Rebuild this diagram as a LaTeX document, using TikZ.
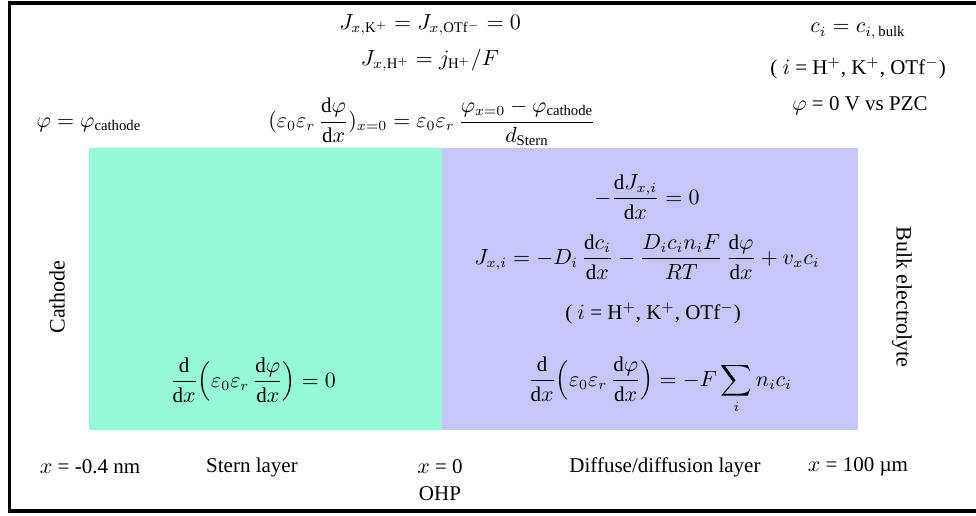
\documentclass[tikz,border=0pt]{standalone}
\usepackage{amsmath}
\usepackage{fontspec}
\setmainfont{Liberation Serif}
\usepackage{tikz}
\usetikzlibrary{positioning}
\definecolor{Aqua}{HTML}{96FAD6}
\definecolor{Lavender}{HTML}{C5C7F8}
\newcommand{\dd}{\mathrm{d}}
\tikzset{
  frame/.style={draw=black,line width=1.6pt},
  eqn/.style={inner sep=1pt,font=\fontsize{10.5}{12}\selectfont},
  lbl/.style={inner sep=1pt,font=\fontsize{10.5}{12}\selectfont},
  sidelbl/.style={inner sep=1pt,font=\fontsize{11}{13}\selectfont}
}
\begin{document}
\begin{tikzpicture}[x=0.5pt,y=-0.5pt]
  \useasboundingbox (0,0) rectangle (976,515);
  \fill[Aqua] (89,148) rectangle (442,430);
  \fill[Lavender] (442,148) rectangle (858,430);
  \draw[frame] (9.5,3) rectangle (978,511);
  % boundary conditions
  \node[eqn] (fluxK) at (430,25) {$J_{x,\mathrm{K^+}} = J_{x,\mathrm{OTf^-}} = 0$};
  \node[eqn] (fluxH) at (430,60) {$J_{x,\mathrm{H^+}} = j_{\mathrm{H^+}}/F$};
  \node[eqn] (gauss) at (432,122) {$\displaystyle(\varepsilon_0\varepsilon_r\,\frac{\dd\varphi}{\dd x})_{x=0} = \varepsilon_0\varepsilon_r\,\frac{\varphi_{x=0}-\varphi_{\mathrm{cathode}}}{d_{\mathrm{Stern}}}$};
  \node[eqn] (phicat) at (89,125) {$\varphi = \varphi_{\mathrm{cathode}}$};
  \node[eqn] (cbulk) at (858,31) {$c_i = c_{i,\,\mathrm{bulk}}$};
  \node[lbl] (ionsA) at (858,68) {( $i$ = H$^+$, K$^+$, OTf$^-$)};
  \node[lbl] (phizero) at (860,106) {$\varphi$ = 0 V vs PZC};
  % governing equations
  \node[eqn] (cons) at (647,197) {$\displaystyle -\frac{\dd J_{x,i}}{\dd x} = 0$};
  \node[eqn] (npflux) at (647,257) {$\displaystyle J_{x,i} = -D_i\,\frac{\dd c_i}{\dd x} - \frac{D_i c_i n_i F}{RT}\,\frac{\dd\varphi}{\dd x} + v_x c_i$};
  \node[lbl] (ionsB) at (653,313) {( $i$ = H$^+$, K$^+$, OTf$^-$)};
  \node[eqn] (poisson) at (660,385) {$\displaystyle \frac{\dd}{\dd x}\Big(\varepsilon_0\varepsilon_r\,\frac{\dd\varphi}{\dd x}\Big) = -F\sum_i n_i c_i$};
  \node[eqn] (laplace) at (253,380) {$\displaystyle \frac{\dd}{\dd x}\Big(\varepsilon_0\varepsilon_r\,\frac{\dd\varphi}{\dd x}\Big) = 0$};
  % axis labels
  \node[lbl] (xcat) at (90,467) {$x$ = -0.4 nm};
  \node[lbl] (stern) at (252,467) {Stern layer};
  \node[lbl] (xohp) at (440,467) {$x$ = 0};
  \node[lbl,below=4pt of xohp] (ohp) {OHP};
  \node[lbl] (diffuse) at (665,467) {Diffuse/diffusion layer};
  \node[lbl] (xbulk) at (858,467) {$x$ = 100 µm};
  \node[sidelbl,rotate=90] (cathode) at (57,297) {Cathode};
  \node[sidelbl,rotate=-90] (bulk) at (902,297) {Bulk electrolyte};
\end{tikzpicture}
\end{document}
